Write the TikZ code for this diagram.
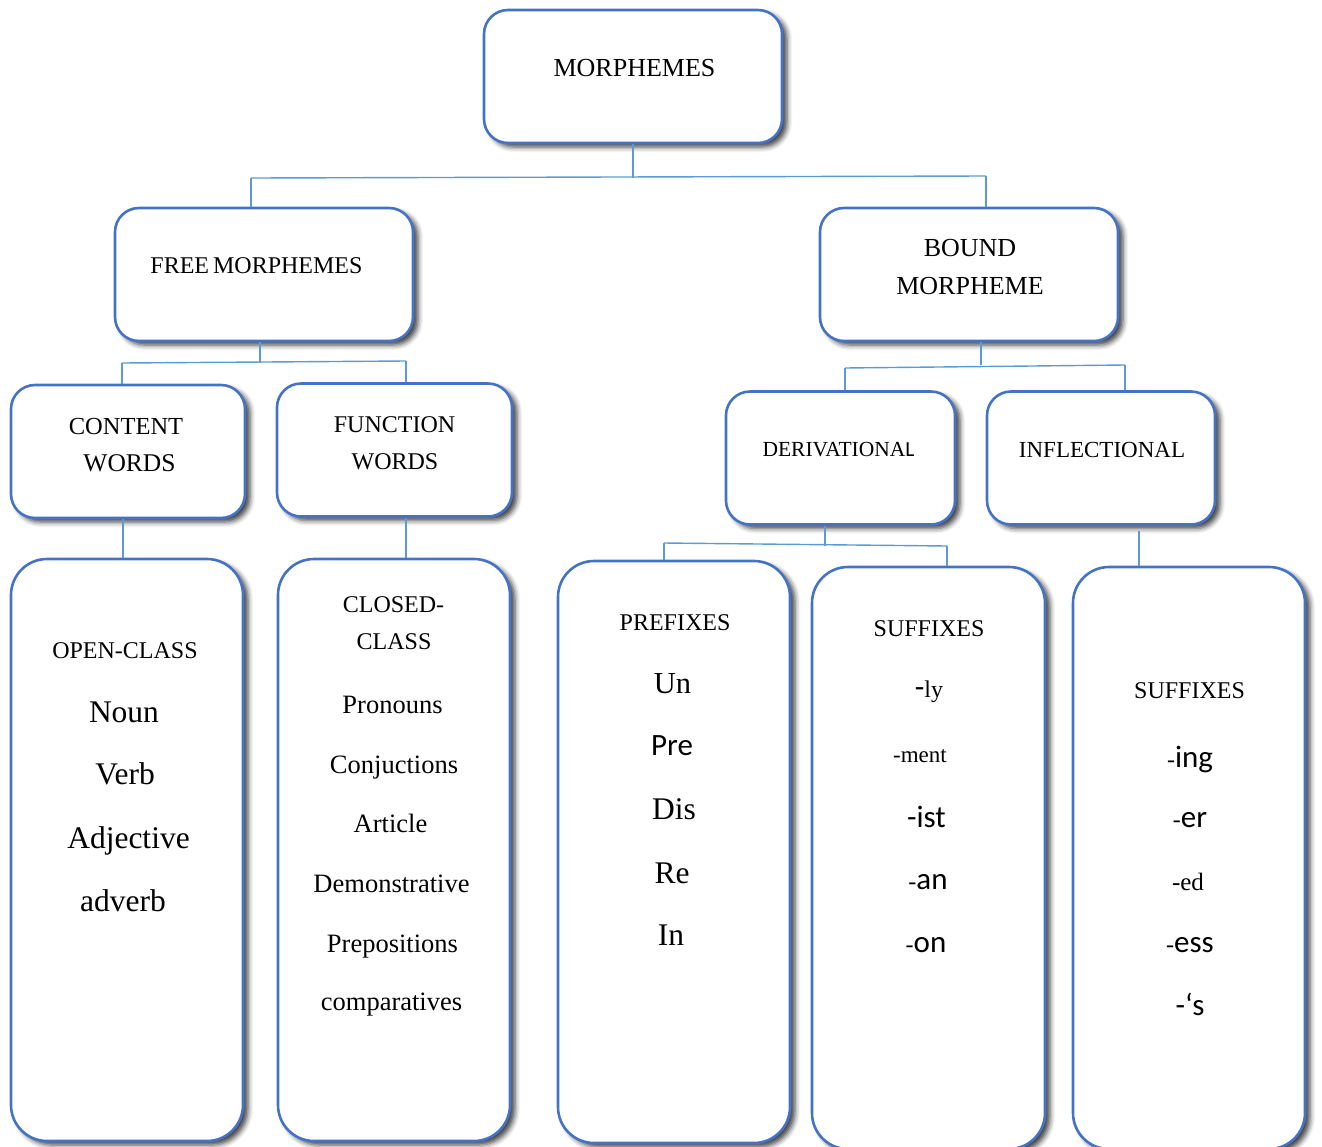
\documentclass[tikz,border=0pt]{standalone}
\usepackage{fontspec}
\setmainfont{Liberation Serif}
\newfontfamily\calib{Carlito}
\usetikzlibrary{shadows.blur,calc}
\definecolor{boxblue}{RGB}{68,114,196}
\definecolor{lineblue}{RGB}{91,155,213}
\newcommand{\fs}[1]{\fontsize{#1}{#1}\selectfont}
\tikzset{
  box/.style={draw=boxblue, line width=2.6pt, fill=white, rounded corners=24pt, inner sep=0pt,
    blur shadow={shadow xshift=5pt, shadow yshift=-4pt, shadow blur radius=5pt, shadow opacity=75}},
  smallbox/.style={box, minimum width=#1, minimum height=133pt},
  tallbox/.style={box, rounded corners=36pt, minimum width=232pt, minimum height=582pt},
  conn/.style={draw=lineblue, line width=1.4pt},
  lbl/.style={anchor=base, inner sep=0pt, font=\fs{24}},
  tbig/.style={anchor=base, inner sep=0pt, font=\fs{31.5}},
  tmed/.style={anchor=base, inner sep=0pt, font=\fs{26.5}},
}
\begin{document}
\begin{tikzpicture}[x=1pt,y=-1pt]
\useasboundingbox (0,0) rectangle (1322,1146);
\clip (0,0) rectangle (1322,1146);

% ---------- boxes ----------
\node[smallbox=298pt] (morph) at (633,76.5) {};
\node[smallbox=298pt] (free) at (264,274.5) {};
\node[smallbox=298pt] (bound) at (969,274.5) {};
\node[smallbox=234pt] (content) at (128,451.5) {};
\node[smallbox=235pt] (function) at (394.5,450) {};
\node[smallbox=229pt] (deriv) at (840.5,458) {};
\node[smallbox=228pt] (infl) at (1101,458) {};
\node[tallbox] (open) at (127,850) {};
\node[tallbox] (closed) at (394,850) {};
\node[tallbox] (prefix) at (674,852) {};
\node[tallbox, minimum width=233pt] (suffa) at (928.5,858) {};
\node[tallbox] (suffb) at (1189,858) {};

% ---------- connectors ----------
\coordinate (j1l) at (251,178);
\coordinate (j1r) at (986,176);
\draw[conn] (morph.south) -- (morph.south |- j1l);
\draw[conn] (j1l) -- (j1r);
\draw[conn] (j1l) -- (j1l |- free.north);
\draw[conn] (j1r) -- (j1r |- bound.north);

\coordinate (j2l) at (122,363);
\coordinate (j2r) at (406,361);
\coordinate (j2m) at (260,0);
\draw[conn] (j2m |- free.south) -- (j2m |- j2l);
\draw[conn] (j2l) -- (j2r);
\draw[conn] (j2l) -- (j2l |- content.north);
\draw[conn] (j2r) -- (j2r |- function.north);

\coordinate (j3l) at (845,368);
\coordinate (j3r) at (1125,365);
\coordinate (j3m) at (981,0);
\draw[conn] (j3m |- bound.south) -- (j3m |- j3r);
\draw[conn] (j3l) -- (j3r);
\draw[conn] (j3l) -- (j3l |- deriv.north);
\draw[conn] (j3r) -- (j3r |- infl.north);

\coordinate (c4) at (123,0);
\draw[conn] (c4 |- content.south) -- (c4 |- open.north);
\coordinate (c5) at (406,0);
\draw[conn] (c5 |- function.south) -- (c5 |- closed.north);

\coordinate (j4l) at (664,543);
\coordinate (j4r) at (947,546);
\coordinate (j4m) at (825,0);
\draw[conn] (j4m |- deriv.south) -- (j4m |- j4r);
\draw[conn] (j4l) -- (j4r);
\draw[conn] (j4l) -- (j4l |- prefix.north);
\draw[conn] (j4r) -- (j4r |- suffa.north);

\coordinate (c6) at (1139,531);
\draw[conn] (c6) -- (c6 |- suffb.north);

% ---------- labels ----------
\node[lbl, font=\fs{26}] (t1) at (634.5,76) {MORPHEMES};
\node[lbl] (t2) at (256.5,273) {FREE\kern-2pt\ MORPHEMES};
\node[lbl, font=\fs{26}] (t3) at (970,256) {BOUND};
\node[lbl, font=\fs{26}] (t4) at (970,294) {MORPHEME};
\node[lbl, font=\fs{24.5}] (t5) at (126,434) {CONTENT};
\node[lbl, font=\fs{25.5}] (t6) at (129.5,471) {WORDS};
\node[lbl] (t7) at (394.5,432) {FUNCTION};
\node[lbl] (t8) at (395,469) {WORDS};
\node[lbl, font=\fs{21.5}] (t9) at (838.5,456) {DERIVATIONA{\calib L}};
\node[lbl, font=\fs{23}] (t10) at (1102,457) {INFLECTIONAL};

\node[lbl] (o1) at (125,658) {OPEN-CLASS};
\node[tbig] (o2) at (124,722) {Noun};
\node[tbig] (o3) at (125,784) {Verb};
\node[tbig] (o4) at (128.5,848) {Adjective};
\node[tbig] (o5) at (123,911) {adverb};

\node[lbl] (k1) at (393.5,612) {CLOSED-};
\node[lbl] (k2) at (394,649) {CLASS};
\node[tmed] (k3) at (392.5,713) {Pronouns};
\node[tmed] (k4) at (394,773) {Conjuctions};
\node[tmed] (k5) at (390.5,832) {Article};
\node[tmed] (k6) at (391.5,892) {Demonstrative};
\node[tmed] (k7) at (392.5,952) {Prepositions};
\node[tmed] (k8) at (391.5,1010) {comparatives};

\node[lbl] (p1) at (675,630) {PREFIXES};
\node[tbig, font=\fs{30.5}] (p2) at (672.5,693) {Un};
\node[tbig, font=\calib\fs{31}] (p3) at (672,755) {Pre};
\node[tbig] (p4) at (674,819) {Dis};
\node[tbig] (p5) at (672,883) {Re};
\node[tbig] (p6) at (671,945) {In};

\node[lbl] (s1) at (929,636) {SUFFIXES};
\node[lbl] (s2) at (929,697) {{\calib\fs{31}-}ly};
\node[lbl, font=\fs{23}] (s3) at (920,762) {-ment};
\node[lbl, font=\calib\fs{31}] (s4) at (926.5,827) {-ist};
\node[lbl] (s5) at (928,889) {-{\calib\fs{31}an}};
\node[lbl] (s6) at (926,952) {-{\calib\fs{31}on}};

\node[lbl] (r1) at (1189.5,698) {SUFFIXES};
\node[lbl] (r2) at (1190,767) {-{\calib\fs{31}ing}};
\node[lbl] (r3) at (1190,827) {-{\calib\fs{31}er}};
\node[lbl, font=\fs{25}] (r4) at (1188,890) {-ed};
\node[lbl] (r5) at (1190,952) {-{\calib\fs{31}ess}};
\node[lbl, font=\calib\fs{31}] (r6) at (1190,1015) {-‘s};
\end{tikzpicture}
\end{document}
